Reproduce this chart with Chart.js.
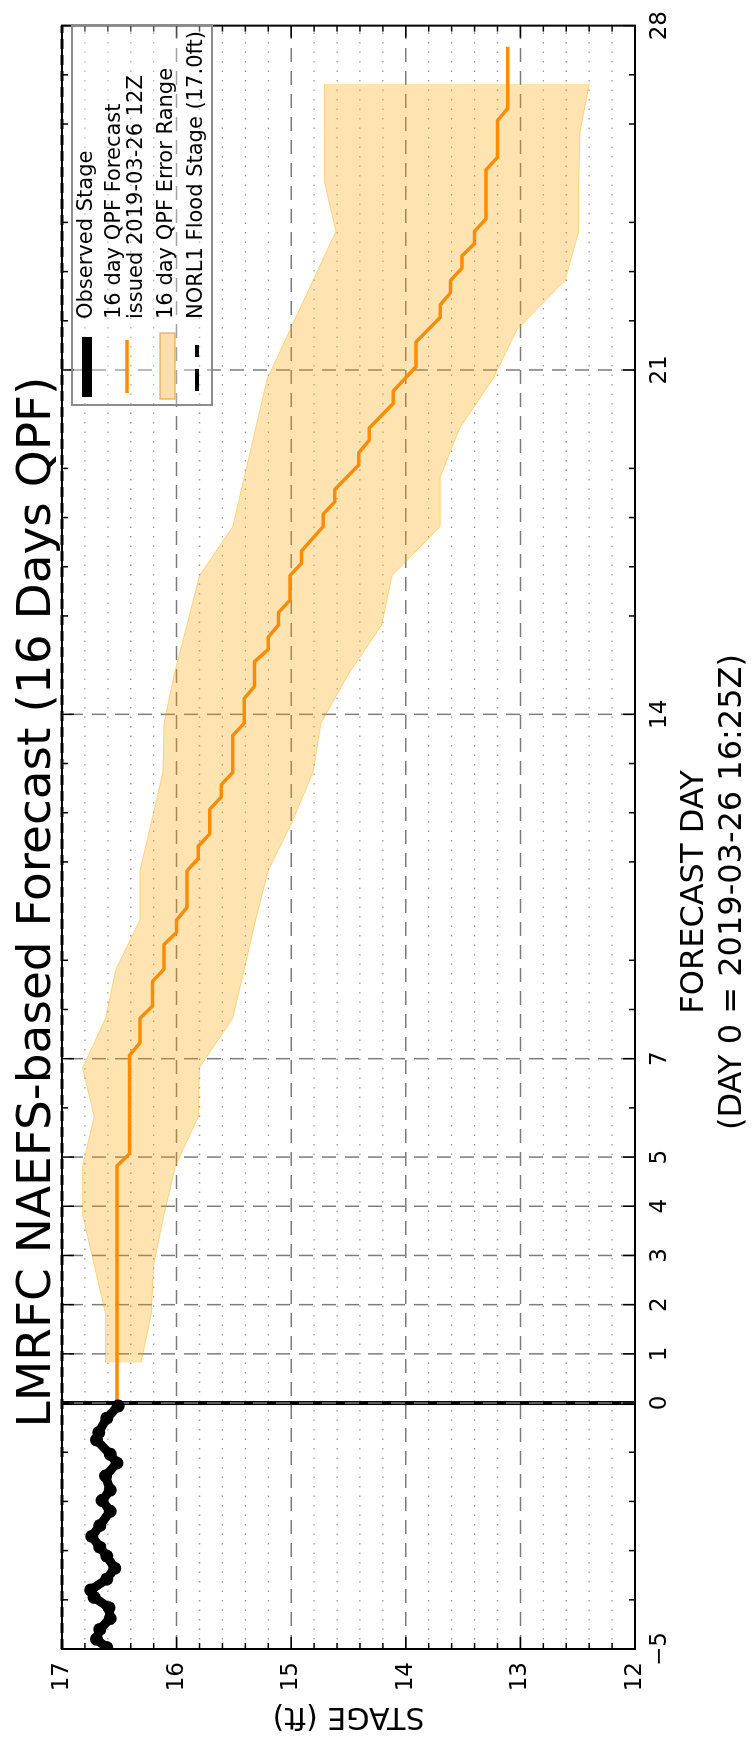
<!DOCTYPE html>
<html>
<head>
<meta charset="utf-8">
<title>LMRFC NAEFS-based Forecast</title>
<script src="https://cdn.jsdelivr.net/npm/chart.js@4.4.1/dist/chart.umd.min.js"></script>
<style>
  html, body { margin: 0; padding: 0; background: #fff; overflow: hidden; }
  /* the plot is drawn upright, then turned a quarter turn like the original image */
  #wrap { position: absolute; left: 0; top: 0; width: 1742px; height: 752px;
          transform-origin: 0 0; transform: translate(0px, 1742px) rotate(-90deg); }
  canvas { display: block; }
</style>
</head>
<body>
<div id="wrap"><canvas id="stage-chart" width="1742" height="752"></canvas></div>
<script>
const titleText = "LMRFC NAEFS-based Forecast (16 Days QPF)";
const xTitle = ["FORECAST DAY", "(DAY 0 = 2019-03-26 16:25Z)"];

// forecast day axis
const dayTicks = [-5, 0, 1, 2, 3, 4, 5, 7, 14, 21, 28];
const dayTickLabels = ["\u22125", "0", "1", "2", "3", "4", "5", "7", "14", "21", "28"];
const dayMinor = [-4, -3, -2, -1, 6, 8, 9, 11, 12, 13, 16, 17, 18, 19, 22, 23, 24, 26, 27];
const stageTicks = [12, 13, 14, 15, 16, 17];
const floodStage = 17.0;

// observed stage (last 5 days)
const obsDays = [-4.97, -4.8, -4.6, -4.38, -4.16, -3.95, -3.8, -3.58, -3.36, -3.11, -2.93, -2.71,
                 -2.49, -2.2, -1.98, -1.77, -1.48, -1.22, -1.04, -0.75, -0.6, -0.31, -0.06];
const obsStage = [16.61, 16.70, 16.67, 16.58, 16.59, 16.72, 16.75, 16.61, 16.54, 16.61, 16.67, 16.74,
                  16.67, 16.58, 16.65, 16.58, 16.62, 16.52, 16.58, 16.70, 16.68, 16.61, 16.51];

// 16 day QPF forecast (vertices of the step line)
const fcstDays = [0, 4.82, 5.07, 7.07, 7.32, 7.82, 8.07, 8.57, 8.82, 9.32,
                  9.57, 9.82, 10.07, 10.82, 11.07, 11.32, 11.57, 12.07, 12.32, 12.57,
                  12.82, 13.57, 13.82, 14.32, 14.57, 15.07, 15.32, 15.57, 15.82, 16.07,
                  16.32, 16.82, 17.07, 17.32, 17.82, 18.07, 18.32, 18.57, 19.07, 19.32,
                  19.57, 19.82, 20.32, 20.57, 21.07, 21.57, 22.07, 22.32, 22.57, 22.82,
                  23.07, 23.32, 23.57, 23.82, 24.07, 25.07, 25.32, 26.07, 26.32, 27.57];
const fcstStage = [16.52, 16.52, 16.41, 16.41, 16.32, 16.32, 16.21, 16.21, 16.11, 16.11,
                   16.00, 16.00, 15.91, 15.91, 15.81, 15.81, 15.71, 15.71, 15.61, 15.61,
                   15.51, 15.51, 15.41, 15.41, 15.32, 15.32, 15.20, 15.20, 15.11, 15.11,
                   15.01, 15.01, 14.91, 14.91, 14.72, 14.72, 14.62, 14.62, 14.41, 14.41,
                   14.32, 14.32, 14.11, 14.11, 13.91, 13.91, 13.70, 13.70, 13.61, 13.61,
                   13.51, 13.51, 13.40, 13.40, 13.30, 13.30, 13.20, 13.20, 13.11, 13.11];

// error range, daily
const bandDays = [0.82, 1.82, 2.82, 3.82, 4.82, 5.82, 6.82, 7.82, 8.82, 9.82, 10.82, 11.82, 12.82, 13.82,
                  14.82, 15.82, 16.82, 17.82, 18.82, 19.82, 20.82, 21.82, 22.82, 23.82, 24.82, 25.82, 26.82];
const bandUpper = [16.62, 16.62, 16.72, 16.82, 16.82, 16.72, 16.82, 16.62, 16.53, 16.32, 16.32, 16.22, 16.12, 16.11,
                   16.02, 15.91, 15.80, 15.51, 15.41, 15.31, 15.21, 15.01, 14.81, 14.61, 14.71, 14.71, 14.71];
const bandLower = [16.31, 16.22, 16.20, 16.11, 16.01, 15.81, 15.80, 15.51, 15.41, 15.31, 15.20, 14.99, 14.81, 14.74,
                   14.50, 14.21, 14.12, 13.70, 13.70, 13.53, 13.24, 13.03, 12.61, 12.49, 12.49, 12.48, 12.40];

const FONT = "DejaVu Sans";
const bandFill = "rgba(255, 165, 0, 0.3)";
const bandEdge = "rgba(255, 165, 0, 0.4)";
const fcstColor = "#ff8c00";

function pts(xs, ys) {
	return xs.map((v, i) => ({x: v, y: ys[i]}));
}

function line(ctx, x1, y1, x2, y2) {
	ctx.beginPath();
	ctx.moveTo(x1, y1);
	ctx.lineTo(x2, y2);
	ctx.stroke();
}

const decorations = {
	id: "decorations",
	beforeDatasetsDraw(chart) {
		const {ctx, chartArea: a, scales: {x, y}} = chart;
		ctx.save();
		ctx.beginPath();
		ctx.rect(a.left, a.top, a.right - a.left, a.bottom - a.top);
		ctx.clip();

		// dotted minor stage lines every 0.2 ft
		ctx.strokeStyle = "#9a9a9a";
		ctx.lineWidth = 1.3;
		ctx.setLineDash([1.5, 8]);
		for (let i = 1; i < 25; i++) {
			if (i % 5 == 0) continue;
			const py = y.getPixelForValue(12 + i * 0.2);
			line(ctx, a.left, py, a.right, py);
		}

		// day 0
		ctx.setLineDash([]);
		ctx.strokeStyle = "#000";
		ctx.lineWidth = 4;
		const p0 = x.getPixelForValue(0);
		line(ctx, p0, a.top, p0, a.bottom);

		// dashed major grid
		ctx.strokeStyle = "#7c7c7c";
		ctx.lineWidth = 1.5;
		ctx.setLineDash([14, 9]);
		dayTicks.forEach(d => {
			if (d <= -5 || d >= 28) return;
			const px = x.getPixelForValue(d);
			line(ctx, px, a.bottom, px, a.top);
		});
		stageTicks.forEach(s => {
			if (s <= 12 || s >= 17) return;
			const py = y.getPixelForValue(s);
			line(ctx, a.left, py, a.right, py);
		});
		ctx.restore();
	},
	afterDatasetsDraw(chart) {
		const {ctx, chartArea: a, scales: {x, y}} = chart;
		ctx.save();

		// flood stage
		ctx.strokeStyle = "#000";
		ctx.lineWidth = 3;
		ctx.setLineDash([10, 6]);
		const pf = y.getPixelForValue(floodStage);
		line(ctx, a.left, pf, a.right, pf);

		// frame
		ctx.setLineDash([]);
		ctx.lineWidth = 2;
		ctx.strokeRect(a.left, a.top, a.right - a.left, a.bottom - a.top);

		// inward ticks
		ctx.lineWidth = 1.5;
		dayTicks.forEach(d => {
			const px = x.getPixelForValue(d);
			line(ctx, px, a.bottom, px, a.bottom - 12);
			line(ctx, px, a.top, px, a.top + 12);
		});
		dayMinor.forEach(d => {
			const px = x.getPixelForValue(d);
			line(ctx, px, a.bottom, px, a.bottom - 6);
			line(ctx, px, a.top, px, a.top + 6);
		});
		for (let i = 0; i <= 25; i++) {
			const py = y.getPixelForValue(12 + i * 0.2);
			const len = (i % 5 == 0) ? 12 : 6;
			line(ctx, a.left, py, a.left + len, py);
			line(ctx, a.right, py, a.right - len, py);
		}

		// legend
		const lx = 1337, ly = 72, lw = 380, lh = 140;
		ctx.fillStyle = "rgba(255,255,255,0.3)";
		ctx.fillRect(lx, ly, lw, lh);
		ctx.strokeStyle = "#8c8c8c";
		ctx.lineWidth = 2;
		ctx.strokeRect(lx, ly, lw, lh);

		ctx.fillStyle = "#000";
		ctx.fillRect(lx + 8, 82, 60, 10);

		ctx.strokeStyle = fcstColor;
		ctx.lineWidth = 3.5;
		line(ctx, lx + 12, 127, lx + 65, 127);

		ctx.fillStyle = "rgb(252, 222, 172)";
		ctx.fillRect(lx + 6, 160, 66, 15);
		ctx.strokeStyle = "rgba(225, 160, 60, 0.7)";
		ctx.lineWidth = 1.5;
		ctx.strokeRect(lx + 6, 160, 66, 15);

		ctx.strokeStyle = "#000";
		ctx.lineWidth = 4;
		ctx.setLineDash([22, 12]);
		line(ctx, lx + 14, 197, lx + 60, 197);
		ctx.setLineDash([]);

		ctx.fillStyle = "#000";
		ctx.font = "21px '" + FONT + "'";
		ctx.textAlign = "left";
		ctx.textBaseline = "middle";
		ctx.fillText("Observed Stage", lx + 86, 87);
		ctx.fillText("16 day QPF Forecast", lx + 86, 115);
		ctx.fillText("issued 2019-03-26 12Z", lx + 86, 137);
		ctx.fillText("16 day QPF Error Range", lx + 86, 167);
		ctx.fillText("NORL1 Flood Stage (17.0ft)", lx + 86, 197);

		// title and x axis label
		ctx.textAlign = "center";
		ctx.font = "47px '" + FONT + "'";
		ctx.fillText(titleText, 840, 38);
		ctx.font = "32px '" + FONT + "'";
		ctx.fillText(xTitle[0], 850, 695);
		ctx.fillText(xTitle[1], 850, 733);
		ctx.restore();
	}
};

Chart.defaults.font.family = FONT;
Chart.defaults.color = "#000";

const canvas = document.getElementById("stage-chart");
const chart = new Chart(canvas.getContext("2d"), {
	type: "line",
	data: {
		datasets: [
			{
				label: "Observed Stage",
				data: pts(obsDays, obsStage),
				borderColor: "#000",
				borderWidth: 9,
				pointRadius: 6.5,
				pointBorderWidth: 0,
				pointBackgroundColor: "#000",
				borderJoinStyle: "round",
				fill: false,
			},
			{
				label: "16 day QPF Forecast",
				data: pts(fcstDays, fcstStage),
				borderColor: fcstColor,
				borderWidth: 3.5,
				pointRadius: 0,
				borderJoinStyle: "round",
				fill: false,
			},
			{
				label: "error upper",
				data: pts(bandDays, bandUpper),
				borderColor: bandEdge,
				borderWidth: 1,
				pointRadius: 0,
				fill: false,
			},
			{
				label: "16 day QPF Error Range",
				data: pts(bandDays, bandLower),
				borderColor: bandEdge,
				borderWidth: 1,
				pointRadius: 0,
				backgroundColor: bandFill,
				fill: "-1",
			},
		]
	},
	options: {
		responsive: false,
		animation: false,
		events: [],
		layout: {
			padding: {top: 62, right: 13, left: 0, bottom: 0}
		},
		plugins: {
			legend: {display: false},
			tooltip: {enabled: false},
			title: {display: false},
		},
		scales: {
			x: {
				type: "linear",
				min: -5,
				max: 28,
				afterBuildTicks: (scale) => {
					scale.ticks = dayTicks.map(v => ({value: v}));
				},
				afterFit: (scale) => { scale.height = 117; },
				grid: {display: false, drawTicks: false},
				border: {display: false},
				ticks: {
					autoSkip: false,
					maxRotation: 0,
					padding: 11,
					font: {size: 23},
					callback: (value, index) => dayTickLabels[index],
				},
			},
			y: {
				type: "linear",
				min: 12,
				max: 17,
				afterBuildTicks: (scale) => {
					scale.ticks = stageTicks.map(v => ({value: v}));
				},
				afterFit: (scale) => { scale.width = 93; },
				grid: {display: false, drawTicks: false},
				border: {display: false},
				ticks: {
					padding: 13,
					font: {size: 23},
				},
				title: {
					display: true,
					text: "STAGE (ft)",
					font: {size: 30},
					padding: {top: 8, bottom: 0},
				},
			},
		},
	},
	plugins: [decorations],
});
</script>
</body>
</html>
